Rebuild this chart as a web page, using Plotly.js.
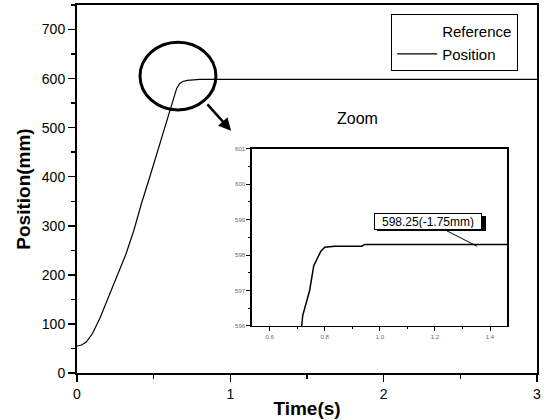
<!DOCTYPE html>
<html>
<head>
<meta charset="utf-8">
<script src="https://cdn.plot.ly/plotly-3.0.1.min.js"></script>
<style>html,body{margin:0;padding:0;background:#fff;}#chart{width:548px;height:420px;}</style>
</head>
<body>
<div id="chart"></div>
<script>
// Time (s) samples of the measured position
const timeS = [0, 0.03, 0.06, 0.10, 0.15, 0.20, 0.26, 0.32, 0.37, 0.42, 0.48, 0.54, 0.60, 0.63, 0.65, 0.67, 0.69, 0.72, 0.745, 0.76, 0.785, 0.80, 0.836, 0.935, 0.945, 1.2, 2.0, 3.0];
// Position (mm)
const positionMm = [55, 57, 63, 80, 112, 150, 196, 243, 290, 345, 405, 465, 525, 560, 580, 590, 594, 596.3, 597.0, 597.7, 598.1, 598.22, 598.25, 598.25, 598.3, 598.3, 598.3, 598.3];
// Reference trajectory (time, mm)
const refTime = [0, 3];
const refMm = [600, 600];
// Tick labels
const mainXTicks = [0, 1, 2, 3];
const mainYTicks = [0, 100, 200, 300, 400, 500, 600, 700];
const insetXTicks = [0.6, 0.8, 1.0, 1.2, 1.4];
const insetYTicks = [596, 597, 598, 599, 600, 601];
const labelText = "598.25(-1.75mm)";

const FONT = "Liberation Sans, Arial, sans-serif";

const traces = [
  {x: refTime, y: refMm, name: "Reference", mode: "lines", line: {color: "rgba(0,0,0,0)", width: 1}, xaxis: "x", yaxis: "y"},
  {x: timeS, y: positionMm, name: "Position", mode: "lines", line: {color: "#000", width: 1.2}, xaxis: "x", yaxis: "y"},
  {x: timeS, y: positionMm, name: "Position zoom", showlegend: false, mode: "lines", line: {color: "#000", width: 1.5}, xaxis: "x2", yaxis: "y2"}
];

const axCommon = {showgrid: false, zeroline: false, showline: true, linecolor: "#000", mirror: true, ticks: "outside", tickcolor: "#000"};

const layout = {
  width: 548, height: 420,
  margin: {l: 77, r: 11, t: 5, b: 47},
  paper_bgcolor: "#fff", plot_bgcolor: "#fff",
  font: {family: FONT, color: "#000"},
  showlegend: true,
  legend: {x: 0.683, y: 0.975, xanchor: "left", yanchor: "top", bordercolor: "#000", borderwidth: 1, bgcolor: "#fff",
           font: {size: 15, family: FONT}, tracegroupgap: 0, itemwidth: 40},
  xaxis: Object.assign({}, axCommon, {
    range: [0, 3], tickvals: mainXTicks, ticktext: mainXTicks.map(String), ticklen: 7, tickwidth: 1.5, linewidth: 2,
    minor: {dtick: 0.5, ticklen: 4, tickcolor: "#000", ticks: "outside", showgrid: false},
    tickfont: {size: 14}, title: {text: "Time(s)", font: {size: 19, weight: "bold"}, standoff: 1}
  }),
  yaxis: Object.assign({}, axCommon, {
    range: [0, 750], tickvals: mainYTicks, ticktext: mainYTicks.map(String), ticklen: 7, tickwidth: 1.5, linewidth: 2,
    minor: {dtick: 50, ticklen: 4, tickcolor: "#000", ticks: "outside", showgrid: false},
    tickfont: {size: 14}, title: {text: "Position(mm)", font: {size: 19, weight: "bold"}, standoff: 6}
  }),
  xaxis2: Object.assign({}, axCommon, {
    domain: [0.380, 0.935], anchor: "y2", range: [0.535, 1.462],
    tickvals: insetXTicks, ticktext: insetXTicks.map(v => v.toFixed(1)), ticklen: 4, linewidth: 1.5,
    minor: {dtick: 0.1, ticklen: 2, tickcolor: "#000", ticks: "outside", showgrid: false},
    tickfont: {size: 6, color: "#666"}
  }),
  yaxis2: Object.assign({}, axCommon, {
    domain: [0.128, 0.609], anchor: "x2", range: [596, 601],
    tickvals: insetYTicks, ticktext: insetYTicks.map(String), ticklen: 4, linewidth: 1.5,
    minor: {dtick: 0.5, ticklen: 2, tickcolor: "#000", ticks: "outside", showgrid: false},
    tickfont: {size: 6, color: "#666"}
  }),
  shapes: [
    {type: "circle", xref: "paper", yref: "paper", x0: 0.137, x1: 0.302, y0: 0.715, y1: 0.899, line: {color: "#000", width: 3}},
    {type: "rect", xref: "paper", yref: "paper", x0: (377-77)/460, x1: (486-77)/460, y0: (373-231)/368, y1: (373-216)/368, fillcolor: "#000", line: {width: 0}}
  ],
  annotations: [
    {xref: "paper", yref: "paper", x: 0.335, y: 0.658, ax: -25, ay: -28, showarrow: true, arrowhead: 2, arrowsize: 1, arrowwidth: 2.5, arrowcolor: "#000", text: ""},
    {xref: "paper", yref: "paper", x: 0.609, y: 0.720, text: "Zoom", showarrow: false, font: {size: 16, color: "#000"}},
    {xref: "x2", yref: "y2", x: 1.353, y: 598.25, ax: -49, ay: -25, text: labelText, showarrow: true, arrowhead: 0, arrowwidth: 1, arrowcolor: "#000",
     width: 104, height: 13, align: "center",
     bgcolor: "#fff", bordercolor: "#000", borderwidth: 1, borderpad: 1, font: {size: 12, color: "#000"}}
  ]
};

Plotly.newPlot("chart", traces, layout, {displayModeBar: false, staticPlot: true});
</script>
</body>
</html>
